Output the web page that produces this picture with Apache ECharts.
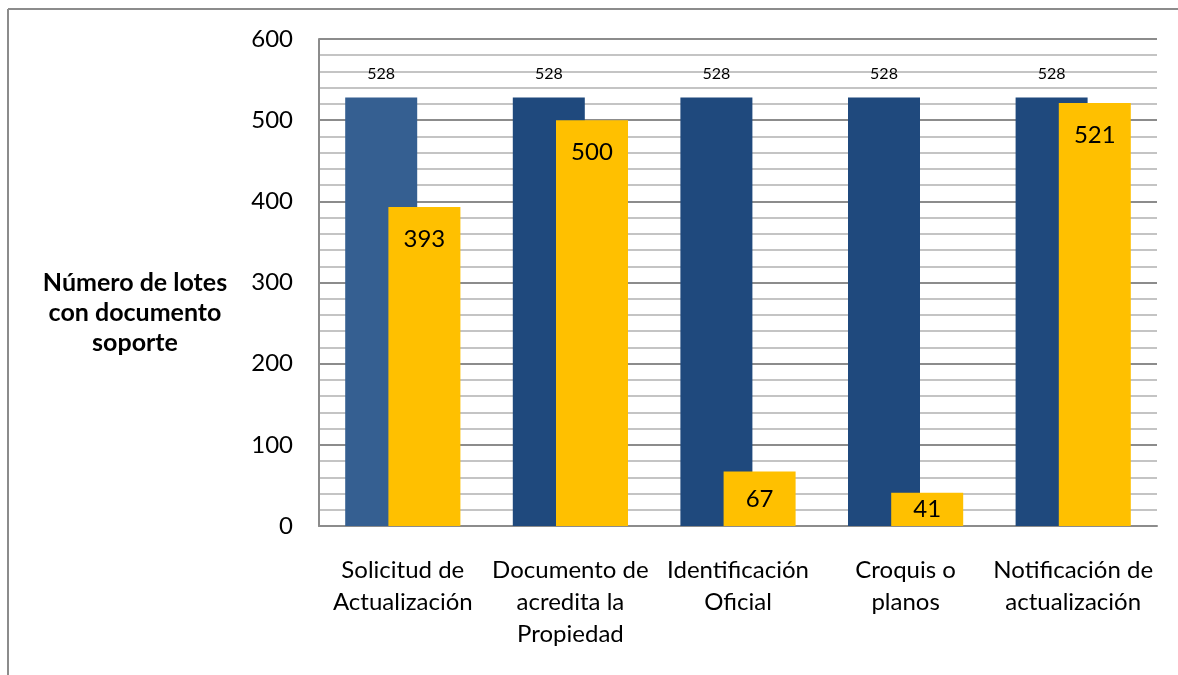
<!DOCTYPE html>
<html><head><meta charset="utf-8">
<script src="https://cdn.jsdelivr.net/npm/echarts@6/dist/echarts.min.js"></script>
<style>html,body{margin:0;padding:0;background:#fff}#c{width:1178px;height:675px}</style>
</head><body><div id="c"></div>
<script>
const categories = ['Solicitud de\nActualización','Documento de\nacredita la\nPropiedad','Identificación\nOficial','Croquis o\nplanos','Notificación de\nactualización'];
const totalLotes = [528,528,528,528,528];
const conDocumento = [393,500,67,41,521];
const yTicks = [0,100,200,300,400,500,600];
const yName = 'Número de lotes\ncon documento\nsoporte';

const FONT = 'Lato';
const chart = echarts.init(document.getElementById('c'));
const blueData = totalLotes.map((v,i)=>({value:v,itemStyle:{color: i===0 ? '#355F91' : '#1F497D'}}));
const yellowData = conDocumento.map(v=>({value:v,label:{position: v<100 ? 'inside' : 'insideTop', distance: 20}}));
chart.setOption({
  animation:false,
  textStyle:{fontFamily:FONT},
  grid:{left:319,right:21,top:39,bottom:149},
  graphic:[
    {type:'line',shape:{x1:8,y1:9,x2:8,y2:675},style:{stroke:'#8c8c8c',lineWidth:2}},
    {type:'line',shape:{x1:8,y1:9,x2:1178,y2:9},style:{stroke:'#8c8c8c',lineWidth:2}},
    {type:'text',x:135,y:268,style:{text:yName,font:'bold 25px '+FONT,fill:'#000',align:'center',lineHeight:30}}
  ],
  xAxis:{type:'category',data:categories,
    axisLine:{lineStyle:{color:'#8c8c8c',width:2}},axisTick:{show:false},
    axisLabel:{fontSize:24,color:'#000',lineHeight:32,margin:28,interval:0,fontFamily:FONT}},
  yAxis:{type:'value',min:0,max:600,interval:100,
    axisLine:{show:true,lineStyle:{color:'#8c8c8c',width:2}},
    axisTick:{show:false},
    axisLabel:{fontSize:24,color:'#000',margin:26,fontFamily:FONT},
    splitLine:{lineStyle:{color:'#8c8c8c',width:2}},
    minorTick:{show:false,splitNumber:5},
    minorSplitLine:{show:true,lineStyle:{color:'#c4c4c4',width:2}}},
  series:[
    {type:'bar',data:blueData,barWidth:72,barGap:'-40%',
      label:{show:true,position:'top',distance:16,fontSize:16,color:'#000',fontFamily:FONT}},
    {type:'bar',data:yellowData,barWidth:72,itemStyle:{color:'#FFC000'},
      label:{show:true,fontSize:24,color:'#000',fontFamily:FONT}}
  ]
});
</script></body></html>
